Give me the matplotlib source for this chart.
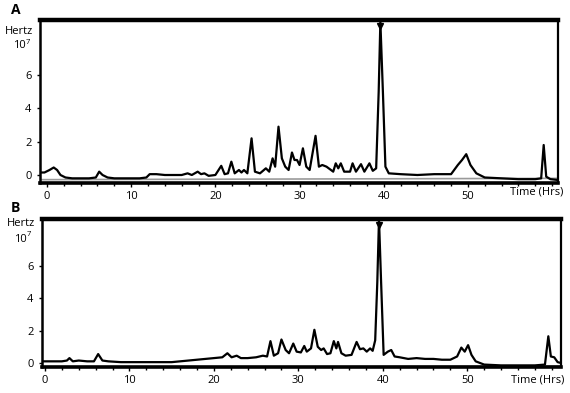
import matplotlib
matplotlib.use("Agg")
import matplotlib.pyplot as plt

# Panel A trace (time in hours, signal in 1e7 Hz)
time_a = [-0.8, -0.3, 0.3, 0.8, 1.2, 1.6, 2.2, 3, 4, 5, 5.8, 6.2, 6.6, 7.2, 8, 9, 10, 11, 11.8, 12.2,
          13, 14, 15, 16, 16.7, 17.2, 17.9, 18.3, 18.7, 19.2, 20, 20.7, 21.1, 21.5, 21.9, 22.3, 22.8,
          23.1, 23.4, 23.8, 24.3, 24.7, 25.3, 26.0, 26.4, 26.8, 27.1, 27.5, 27.9, 28.3, 28.7, 29.1,
          29.4, 29.7, 30.0, 30.4, 30.8, 31.2, 31.9, 32.3, 32.7, 33.2, 33.6, 34.0, 34.3, 34.6, 34.9,
          35.3, 36.0, 36.3, 36.7, 37.3, 37.7, 38.3, 38.7, 39.1, 39.4, 39.6, 39.9, 40.2, 40.6, 42, 44,
          46, 48, 48.8, 49.3, 49.8, 50.3, 51.0, 52, 54, 56, 58, 58.7, 59.0, 59.3, 59.8, 60.7]
signal_a = [0.15, 0.15, 0.3, 0.45, 0.3, 0.0, -0.15, -0.2, -0.2, -0.2, -0.15, 0.2, 0.0, -0.15, -0.2, -0.2,
            -0.2, -0.2, -0.15, 0.05, 0.05, 0.0, 0.0, 0.0, 0.1, 0.0, 0.2, 0.05, 0.1, -0.05, 0.0, 0.55,
            0.05, 0.1, 0.8, 0.1, 0.3, 0.15, 0.3, 0.1, 2.2, 0.2, 0.1, 0.4, 0.2, 1.0, 0.5, 2.9, 1.0, 0.5,
            0.3, 1.35, 0.9, 0.9, 0.6, 1.6, 0.5, 0.3, 2.35, 0.5, 0.6, 0.5, 0.35, 0.2, 0.7, 0.4, 0.7, 0.2,
            0.2, 0.7, 0.2, 0.65, 0.2, 0.7, 0.25, 0.4, 5.0, 9.2, 5.0, 0.5, 0.1, 0.05, 0.0, 0.05, 0.05,
            0.6, 0.9, 1.25, 0.6, 0.1, -0.15, -0.2, -0.25, -0.25, -0.2, 1.8, -0.1, -0.25, -0.3]

# Panel B trace
time_b = [-0.4, 1, 2, 2.6, 2.9, 3.3, 4, 5, 5.8, 6.3, 6.8, 7.5, 9, 11, 13, 15, 16, 17, 18, 19, 20, 21,
          21.6, 22.1, 22.7, 23.2, 24, 25, 25.8, 26.3, 26.7, 27.1, 27.6, 28.0, 28.5, 28.9, 29.4, 29.8,
          30.3, 30.7, 31.0, 31.5, 31.9, 32.3, 32.7, 33.0, 33.4, 33.8, 34.2, 34.5, 34.7, 35.1, 35.6,
          36.3, 36.9, 37.3, 37.7, 38.1, 38.5, 38.8, 39.1, 39.35, 39.55, 39.8, 40.1, 40.6, 41.0, 41.4,
          42, 43, 44, 45, 46, 47, 48, 48.8, 49.3, 49.7, 50.1, 50.5, 51, 52, 54, 56, 58, 59.2, 59.6,
          59.9, 60.3, 60.7, 61.1]
signal_b = [0.1, 0.1, 0.1, 0.15, 0.3, 0.1, 0.15, 0.1, 0.1, 0.55, 0.15, 0.1, 0.05, 0.05, 0.05, 0.05,
            0.1, 0.15, 0.2, 0.25, 0.3, 0.35, 0.6, 0.35, 0.45, 0.3, 0.3, 0.35, 0.45, 0.4, 1.35, 0.45,
            0.6, 1.45, 0.8, 0.6, 1.2, 0.7, 0.65, 1.05, 0.7, 0.9, 2.05, 1.0, 0.8, 0.9, 0.55, 0.6, 1.35,
            0.9, 1.3, 0.6, 0.45, 0.5, 1.3, 0.85, 0.9, 0.7, 0.9, 0.75, 1.4, 5.0, 8.9, 5.0, 0.5, 0.7,
            0.8, 0.4, 0.35, 0.25, 0.3, 0.25, 0.25, 0.2, 0.2, 0.4, 0.95, 0.7, 1.1, 0.5, 0.1, -0.1, -0.15,
            -0.15, -0.15, -0.1, 1.65, 0.4, 0.35, 0.05, 0.0]

# faint grey baseline trace
grey_time = [-0.8, 61.1]
grey_level = [-0.28, -0.2]

peak_time_a, peak_val_a = 39.6, 8.95
peak_time_b, peak_val_b = 39.55, 8.55

x_ticks = [0, 10, 20, 30, 40, 50]
y_ticks = [0, 2, 4, 6]

plt.rcParams['font.family'] = ['Open Sans', 'DejaVu Sans']

fig = plt.figure(figsize=(5.7, 3.93), dpi=100)
axA = fig.add_axes([40/570, 1-183/393, 518/570, 163/393])
axB = fig.add_axes([42/570, 1-367/393, 519/570, 148/393])

def style(ax, xlim, ylim):
    ax.set_xlim(*xlim)
    ax.set_ylim(*ylim)
    ax.set_xticks(x_ticks)
    ax.set_xticks(range(0, 61, 2), minor=True)
    ax.set_yticks(y_ticks)
    ax.tick_params(axis='x', which='major', length=3, width=1, labelsize=8, pad=2.5, direction='out')
    ax.tick_params(axis='x', which='minor', length=2.5, width=1, direction='out')
    ax.tick_params(axis='y', length=2, width=1, labelsize=8, pad=4)
    ax.spines['top'].set_linewidth(3.2)
    ax.spines['bottom'].set_linewidth(2.6)
    ax.spines['left'].set_linewidth(1.8)
    ax.spines['right'].set_linewidth(1.6)
    for s in ax.spines.values():
        s.set_color('black')

axA.plot(grey_time, grey_level, color='#9a9a9a', lw=1.2, zorder=1)
axA.plot(time_a, signal_a, color='black', lw=1.6, zorder=2)
axA.plot([peak_time_a], [peak_val_a], marker='v', color='black', ms=4.5, zorder=3)
style(axA, (-0.83, 60.7), (-0.48, 9.3))

axB.plot(grey_time, grey_level, color='#9a9a9a', lw=1.2, zorder=1)
axB.plot(time_b, signal_b, color='black', lw=1.6, zorder=2)
axB.plot([peak_time_b], [peak_val_b], marker='v', color='black', ms=4.5, zorder=3)
style(axB, (-0.35, 61.1), (-0.25, 8.9))

fs = 8
def unit_label(x_right, y_center):
    # "10" with a small superscript "7"
    fig.text((x_right - 4)/570, 1-y_center/393, '10', fontsize=fs, va='center', ha='right')
    fig.text((x_right - 4)/570, 1-(y_center - 4)/393, '7', fontsize=5.5, va='center', ha='left')

fig.text(11/570, 1-10/393, 'A', fontsize=10, fontweight='bold', va='center', ha='left')
fig.text(11/570, 1-208/393, 'B', fontsize=10, fontweight='bold', va='center', ha='left')
fig.text(5/570, 1-31/393, 'Hertz', fontsize=fs, va='center', ha='left')
unit_label(30, 46)
fig.text(7/570, 1-224/393, 'Hertz', fontsize=fs, va='center', ha='left')
unit_label(31, 239)
fig.text(563/570, 1-192/393, 'Time (Hrs)', fontsize=fs, va='center', ha='right')
fig.text(564/570, 1-380/393, 'Time (Hrs)', fontsize=fs, va='center', ha='right')

fig.savefig('out.png', dpi=100)
